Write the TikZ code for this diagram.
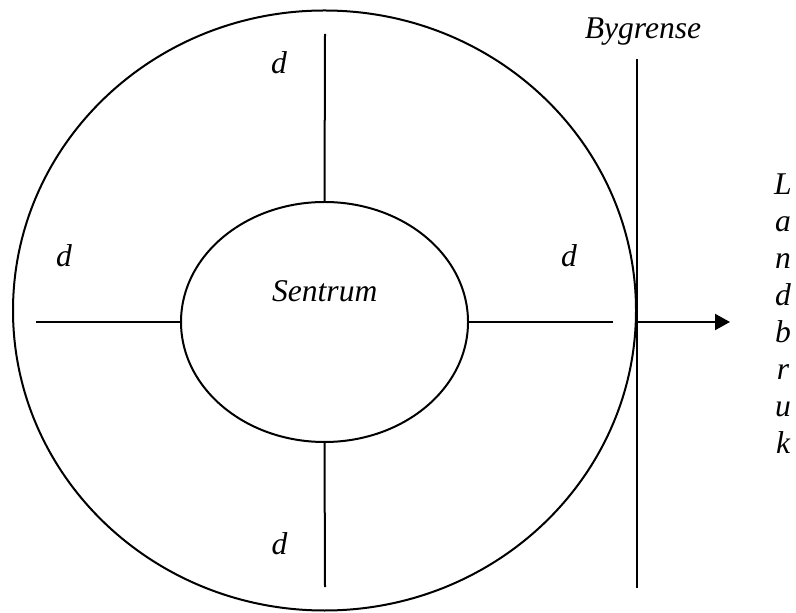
\documentclass[tikz,border=0pt]{standalone}
\usepackage{fontspec}
\setmainfont{Liberation Serif}
\usetikzlibrary{arrows.meta,shapes.geometric}

\begin{document}
\begin{tikzpicture}[
  x=0.5pt, y=-0.5pt,
  font=\fontsize{15.8}{18.4}\selectfont\itshape,
  ring/.style={draw, ellipse, line width=1pt, inner sep=0pt, outer sep=0pt},
  road/.style={line width=1pt},
  lbl/.style={anchor=base, inner sep=0pt},
  arr/.style={-{Triangle[length=7.5pt, width=8pt]}, line width=1pt}]
  \useasboundingbox (0,0) rectangle (796,613);
  % town and centre
  \node[ring, minimum width=311.5pt, minimum height=300pt] (town) at (324.5,310.5) {};
  \node[ring, minimum width=143.5pt, minimum height=120pt] (centre) at (324.5,322) {};
  \node[lbl] (sentrum) at (324.7,301.7) {Sentrum};
  % radial distances
  \coordinate (n) at (325,34);
  \coordinate (s) at (325,587);
  \coordinate (w) at (36,322);
  \coordinate (e) at (613,322);
  \draw[road] (centre.north) -- (n);
  \draw[road] (centre.south) -- (s);
  \draw[road] (centre.west) -- (w);
  \draw[road] (centre.east) -- (e);
  \node[lbl] (dn) at (279,74) {d};
  \node[lbl] (ds) at (279.5,554) {d};
  \node[lbl] (dw) at (64,267) {d};
  \node[lbl] (de) at (569,267) {d};
  % town border and farmland
  \coordinate (bt) at (636.7,59);
  \coordinate (bb) at (636.7,588);
  \coordinate (bm) at (636.7,322);
  \coordinate (land) at (730,322);
  \draw[road] (bt) -- (bb);
  \draw[arr] (bm) -- (land);
  \node[lbl] (grense) at (643,39) {Bygrense};
  \foreach \ch [count=\i] in {L,a,n,d,b,r,u,k}
    \node[lbl] (lb\i) at (783,{195+36.9*(\i-1)}) {\ch};
\end{tikzpicture}
\end{document}
